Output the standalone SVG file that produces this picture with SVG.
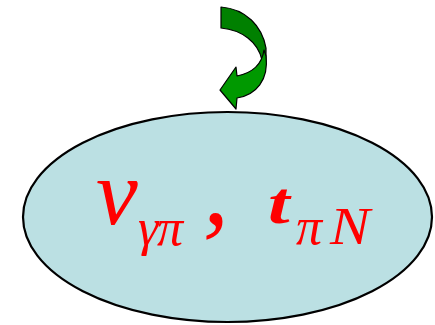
<svg xmlns="http://www.w3.org/2000/svg" width="435" height="325" viewBox="0 0 435 325">
<style>
.lbl{font-family:"Liberation Serif","Times New Roman",serif;font-style:italic;fill:#FF0000}
.sub{font-size:52px}
.arrow{stroke:#000;stroke-width:1.2;stroke-linejoin:round}
</style>
<rect width="435" height="325" fill="#FFFFFF"/>
<g id="connectors">
<path class="arrow" fill="#008000" d="M221,7 C246,9 262,26 266,48 L266,62 L262,60 C258,42 242,30 221,28 Z"/>
<path class="arrow" fill="#009900" d="M264,50 C262,64 252,73 237,76 L236,67 L220,90 L236,109 L237,98 C256,95 269,80 266,56 Z"/>
</g>
<g id="node">
<ellipse cx="227.5" cy="217" rx="204.5" ry="105" fill="#BBE0E3" stroke="#000" stroke-width="2.2"/>
<text class="lbl" x="96" y="224" font-size="94">v</text>
<text class="lbl sub" x="138" y="245">γ</text>
<text class="lbl sub" x="157" y="245">π</text>
<text class="lbl" x="203" y="224" font-size="104">,</text>
<text class="lbl" transform="translate(268,223) scale(1.3,1)" font-size="60" font-weight="bold">t</text>
<text class="lbl sub" x="296" y="244">π</text>
<text class="lbl" transform="translate(330,244) scale(1.15,1)" font-size="52">N</text>
</g>
</svg>
